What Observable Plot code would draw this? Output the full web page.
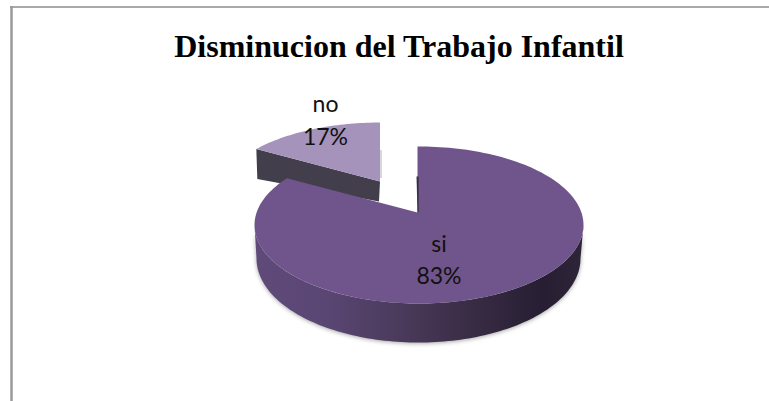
<!DOCTYPE html>
<html><head><meta charset="utf-8">
<script src="https://cdn.jsdelivr.net/npm/d3@7"></script>
<script src="https://cdn.jsdelivr.net/npm/@observablehq/plot@0.6"></script>
<style>html,body{margin:0;padding:0;background:#fff}svg{display:block}</style>
</head><body><div id="c"></div>
<script>
const title = "Disminucion del Trabajo Infantil";
const categories = ["si", "no"];
const shares = [83, 17];
const labelFont = "Lato, 'Open Sans', sans-serif";

// pie arrangement
const turn = d => d / 100 * 2 * Math.PI;
const siApex = [417, 212], siCentre = [418.5, 224.5], siR = [164.5, 78.5];
const noApex = [379.5, 181], noC = [380.5, 192], noR = [159, 70], noDepth = [30, 20];
const siFloorCentre = [418, 258], siFloorR = [162, 84];
const tilt = siR[1] / siR[0];

// rim point: ray from the apex at pie angle a, cut with the ellipse
function rim(a, apex, c, r) {
  const dx = Math.sin(a), dy = -Math.cos(a) * tilt;
  const ox = (apex[0] - c[0]) / r[0], oy = (apex[1] - c[1]) / r[1];
  const ux = dx / r[0], uy = dy / r[1];
  const A = ux * ux + uy * uy, B = 2 * (ox * ux + oy * uy), C = ox * ox + oy * oy - 1;
  const t = (-B + Math.sqrt(B * B - 4 * A * C)) / (2 * A);
  return [apex[0] + dx * t, apex[1] + dy * t];
}
const span = (a0, a1, n) => d3.range(n + 1).map(i => a0 + (a1 - a0) * i / n);

const siEnd = turn(shares[0]);
const siFace = [siApex, ...span(0, siEnd, 160).map(a => rim(a, siApex, siCentre, siR)), siApex];

const noArc = span(siEnd, 2 * Math.PI, 40).map(a => rim(a, noApex, noC, noR));
const noFace = [noApex, ...noArc, noApex];
const noTip = noArc[0];
const noWall = [noApex, noTip, [noTip[0] + 1, noTip[1] + noDepth[0]], [noApex[0] - 1, noApex[1] + noDepth[1]], noApex];

// front wall of the big slice, rim of the top face to rim of the floor
const front = span(Math.PI / 2, 3 * Math.PI / 2, 120);
const siWall = [
  ...front.map(a => [siCentre[0] + siR[0] * Math.sin(a), siCentre[1] - siR[1] * Math.cos(a)]),
  ...front.slice().reverse().map(a => [siFloorCentre[0] + siFloorR[0] * Math.sin(a), siFloorCentre[1] - siFloorR[1] * Math.cos(a)])
];
const siInner = [siApex, [siApex[0] - 1, 176], [siApex[0] + 1.2, 176], [siApex[0] + 1.2, siApex[1]]];

const defs = () => {
  const s = d3.create("svg:defs");
  const g = s.append("linearGradient").attr("id", "wall");
  [[0, "#5f4a7a"], [0.22, "#5a4673"], [0.5, "#463755"], [0.72, "#33283f"], [0.88, "#271e33"], [1, "#2f2539"]]
    .forEach(([o, c]) => g.append("stop").attr("offset", o).attr("stop-color", c));
  return s.node();
};
const shape = (pts, o) => Plot.line(pts, {x: d => d[0], y: d => d[1], strokeWidth: 0, stroke: "none", ...o});

const plot = Plot.plot({
  width: 769, height: 401, margin: 0,
  x: {domain: [0, 769], range: [0, 769], axis: null},
  y: {domain: [0, 401], range: [0, 401], axis: null},
  marks: [
    defs,
    Plot.ruleY([6.5], {x1: 10, x2: 769, stroke: "#8c8c8c", strokeWidth: 1.5}),
    Plot.ruleX([11], {y1: 6, y2: 401, stroke: "#9a9a9a", strokeWidth: 2.5}),
    Plot.ruleX([380.5], {y1: 150, y2: 178, stroke: "#d8d8d8", strokeWidth: 2}),
    shape(noWall, {fill: "#433e4c"}),
    shape(noFace, {fill: "#a593bb"}),
    shape(siWall, {fill: "url(#wall)", imageFilter: "drop-shadow(0px 1.5px 2px rgba(0,0,0,0.35))"}),
    shape(siFace, {fill: "#70558c"}),
    shape(siInner, {fill: "#3a2f48"}),
    Plot.text([title], {x: () => 398.5, y: () => 46, text: d => d, fontFamily: "'Liberation Serif', serif", fontWeight: "bold", fontSize: 32, fill: "#000"}),
    Plot.text([categories[1], shares[1] + "%"], {x: () => 325, y: (d, i) => [104.6, 137.6][i], text: d => d, fontFamily: labelFont, fontSize: 23, fill: "#111"}),
    Plot.text([categories[0], shares[0] + "%"], {x: () => 438.5, y: (d, i) => [244.3, 276][i], text: d => d, fontFamily: labelFont, fontSize: 23, fill: "#111"})
  ]
});
document.getElementById("c").append(plot);
</script></body></html>
